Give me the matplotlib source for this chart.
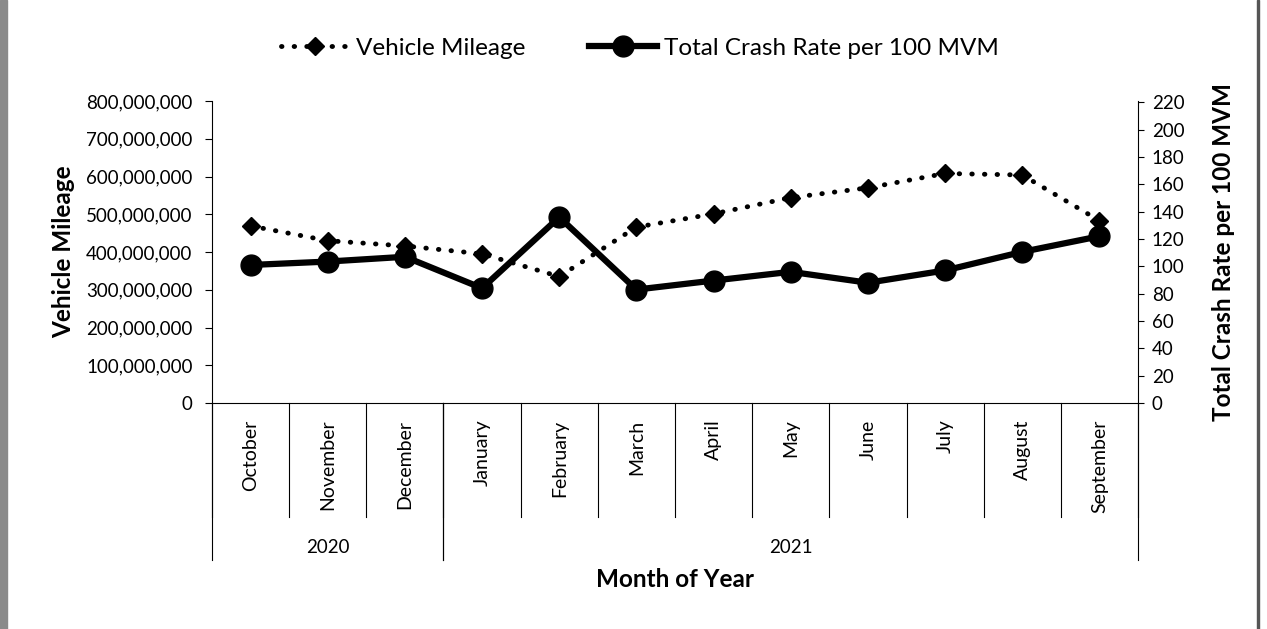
import matplotlib
matplotlib.use('Agg')
import matplotlib.pyplot as plt
from matplotlib.ticker import FuncFormatter
from matplotlib.lines import Line2D
from matplotlib.patches import Rectangle
import matplotlib.transforms as mtransforms

plt.rcParams['font.family'] = ['Lato', 'DejaVu Sans']

months = ["October", "November", "December", "January", "February", "March",
          "April", "May", "June", "July", "August", "September"]
years = ["2020", "2021"]
year_spans = [(0, 3), (3, 12)]  # month index ranges per year
mileage = [469e6, 430e6, 416e6, 395e6, 335e6, 466e6,
           501e6, 544e6, 570e6, 608e6, 604e6, 483e6]
crash_rate = [101, 103.5, 107, 84, 136, 83, 89.6, 96, 88, 97, 110.6, 122]

fig = plt.figure(figsize=(12.67, 6.29), dpi=100)
ax = fig.add_axes([212/1267, 1-403/629, 926/1267, 302/629])
ax2 = ax.twinx()

# scanned page edges
fig.patches.append(Rectangle((0, 0), 7/1267, 1, transform=fig.transFigure,
                             color='#8a8a8a', zorder=0))
fig.patches.append(Rectangle((1257/1267, 0), 2/1267, 1, transform=fig.transFigure,
                             color='#555555', zorder=0))

x = list(range(len(months)))
l1, = ax.plot(x, mileage, color='black', lw=3.5, linestyle=(0, (0.1, 2.5)),
              dash_capstyle='round', marker='D', markersize=9.5, zorder=3)
l2, = ax2.plot(x, crash_rate, color='black', lw=4.5, marker='o', markersize=15, zorder=4)

ax.set_xlim(-0.5, 11.5)
ax.set_ylim(0, 800e6)
ax.set_yticks([i * 100e6 for i in range(9)])
ax.yaxis.set_major_formatter(FuncFormatter(lambda v, p: '{:,.0f}'.format(v)))
ax2.set_ylim(0, 221)
ax2.set_yticks(range(0, 221, 20))

ax.set_xticks(x)
ax.set_xticklabels(months, rotation=90, fontsize=14)
ax.tick_params(axis='x', length=0, pad=12)
ax.tick_params(axis='y', direction='out', length=5, width=0.8, labelsize=13.5, pad=9)
ax2.tick_params(axis='y', direction='out', length=4, width=0.8, labelsize=13.5, pad=6)

for a in (ax, ax2):
    a.spines['top'].set_visible(False)
ax.spines['right'].set_visible(False)
ax2.spines['left'].set_visible(False)
ax2.spines['bottom'].set_visible(False)
for s in ('left', 'bottom'):
    ax.spines[s].set_linewidth(0.8)
ax2.spines['right'].set_linewidth(0.8)

# category separators
trans = mtransforms.blended_transform_factory(ax.transData, ax.transAxes)
for b in range(13):
    xb = b - 0.5
    ax.plot([xb, xb], [0, -0.377], color='black', lw=0.8, transform=trans, clip_on=False)
for s, e in year_spans:
    for xb in (s - 0.5, e - 0.5):
        ax.plot([xb, xb], [0, -0.52], color='black', lw=0.8, transform=trans, clip_on=False)
for yr, (s, e) in zip(years, year_spans):
    ax.text((s + e - 1) / 2, -0.477, yr, transform=trans, ha='center', va='center', fontsize=13.5)

ax.text(0.5, -0.586, "Month of Year", transform=ax.transAxes, ha='center', va='center',
        fontsize=17.5, fontweight='bold')
ax.set_ylabel("Vehicle Mileage", fontsize=17.5, fontweight='bold')
ax.yaxis.set_label_coords(-0.148, 0.5)
ax2.set_ylabel("Total Crash Rate per 100 MVM", fontsize=17.5, fontweight='bold')
ax2.yaxis.set_label_coords(1.08, 0.5)

h1 = Line2D([], [], color='black', lw=3.5, linestyle=(0, (0.1, 2.5)),
            dash_capstyle='round', marker='D', markersize=9.5)
h2 = Line2D([], [], color='black', lw=4.5, marker='o', markersize=15)
fig.legend([h1, h2], ["Vehicle Mileage", "Total Crash Rate per 100 MVM"],
           loc='center', bbox_to_anchor=(640/1267, 1-48/629), ncol=2, frameon=False,
           fontsize=17.5, handlelength=2.8, columnspacing=2.6, handletextpad=0.3)

plt.savefig('out.png', dpi=100)
